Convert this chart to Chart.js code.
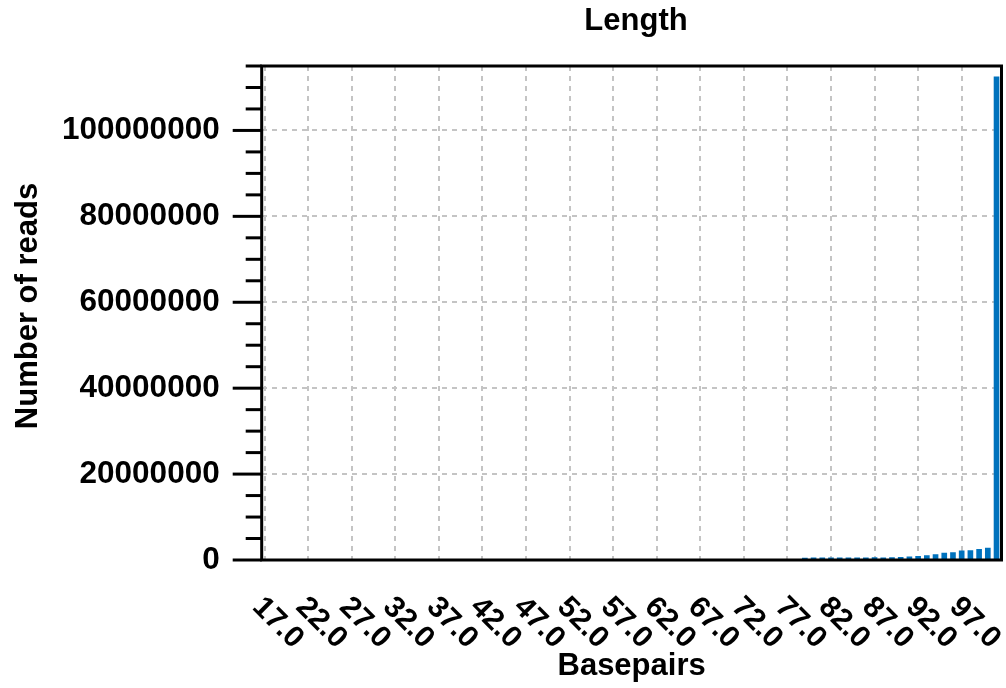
<!DOCTYPE html>
<html>
<head>
<meta charset="utf-8">
<title>Length</title>
<script src="https://cdn.jsdelivr.net/npm/chart.js@4.4.1/dist/chart.umd.min.js"></script>
<style>
  html, body { margin: 0; padding: 0; background: #fff; }
</style>
</head>
<body>
<canvas id="lengthChart" width="1006" height="688"></canvas>
<script>
// read lengths (bp) and counts
const lengths = [79, 80, 81, 82, 83, 84, 85, 86, 87, 88, 89, 90,
                 91, 92, 93, 94, 95, 96, 97, 98, 99, 100, 101];
const reads = [470000, 480000, 490000, 520000, 500000, 500000, 510000, 510000,
               540000, 530000, 550000, 600000, 720000, 880000, 1050000, 1280000,
               1600000, 1750000, 2150000, 2200000, 2500000, 2750000, 112500000];
const xTicks = [17, 22, 27, 32, 37, 42, 47, 52, 57, 62, 67, 72, 77, 82, 87, 92, 97];
const yTicks = [0, 20000000, 40000000, 60000000, 80000000, 100000000];
const yMinorStep = 5000000;

const FONT = '"Liberation Sans", Arial, Helvetica, sans-serif';
const GRID = '#c4c4c4';

// frame, y tick marks, rotated x labels and titles
const decorations = {
    id: 'decorations',
    afterDraw(chart) {
        const { ctx, chartArea: a, scales: { x, y } } = chart;
        ctx.save();
        ctx.strokeStyle = '#000';
        ctx.lineWidth = 3;
        ctx.strokeRect(a.left, a.top, a.right - a.left, a.bottom - a.top);

        // y tick marks, long at labelled ticks
        for (let v = y.min; v <= y.max + 1; v += yMinorStep) {
            const py = y.getPixelForValue(v);
            const len = yTicks.includes(v) ? 29 : 16;
            ctx.beginPath();
            ctx.moveTo(a.left - len, py);
            ctx.lineTo(a.left, py);
            ctx.stroke();
        }

        // x tick labels, turned 45 degrees clockwise
        ctx.fillStyle = '#000';
        ctx.font = 'bold 30px ' + FONT;
        ctx.textAlign = 'center';
        ctx.textBaseline = 'middle';
        xTicks.forEach(t => {
            const px = x.getPixelForValue(t);
            ctx.save();
            ctx.translate(px + 13, 623);
            ctx.rotate(Math.PI / 4);
            ctx.fillText(t.toFixed(1), 0, 0);
            ctx.restore();
        });

        // titles
        ctx.font = 'bold 31px ' + FONT;
        ctx.textBaseline = 'alphabetic';
        ctx.fillText('Length', 636, 30);
        ctx.fillText('Basepairs', (a.left + a.right) / 2, 675);
        ctx.save();
        ctx.translate(37, 306);
        ctx.rotate(-Math.PI / 2);
        ctx.fillText('Number of reads', 0, 0);
        ctx.restore();
        ctx.restore();
    }
};

new Chart(document.getElementById('lengthChart'), {
    type: 'bar',
    data: {
        datasets: [{
            data: lengths.map((l, i) => ({ x: l, y: reads[i] })),
            backgroundColor: '#0072BD',
            barThickness: 5
        }]
    },
    options: {
        responsive: false,
        animation: false,
        devicePixelRatio: 1,
        layout: { padding: { top: 66, right: 4.5, left: 0, bottom: 0 } },
        plugins: { legend: { display: false }, tooltip: { enabled: false } },
        scales: {
            x: {
                type: 'linear',
                min: 16.66,
                max: 101.57,
                offset: false,
                afterBuildTicks: s => { s.ticks = xTicks.map(v => ({ value: v })); },
                afterFit: s => { s.height = 128; },
                ticks: { display: false },
                border: { display: false, dash: [5, 5] },
                grid: { color: GRID, lineWidth: 2, drawTicks: false, offset: false }
            },
            y: {
                min: 0,
                max: 115000000,
                afterBuildTicks: s => { s.ticks = yTicks.map(v => ({ value: v })); },
                afterFit: s => { s.width = 261.7; },
                border: { display: false, dash: [5, 5] },
                grid: { color: GRID, lineWidth: 2, drawTicks: false },
                ticks: {
                    padding: 42,
                    color: '#000',
                    font: { family: FONT, size: 31.5, weight: 'bold' },
                    callback: v => String(v)
                }
            }
        }
    },
    plugins: [decorations]
});
</script>
</body>
</html>
